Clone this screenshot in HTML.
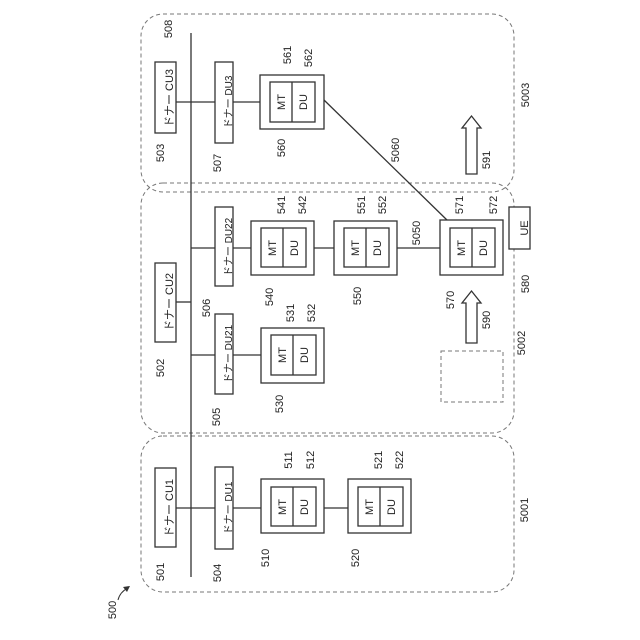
<!DOCTYPE html>
<html><head><meta charset="utf-8"><style>html,body{margin:0;padding:0;background:#fff}svg{display:block}text{font-family:"Liberation Sans","Noto Sans CJK JP",sans-serif;font-size:11px;fill:#222}.b{font-size:10px}</style></head><body>
<svg width="640" height="640" viewBox="0 0 640 640" xmlns="http://www.w3.org/2000/svg">
<g fill="none" stroke="#777" stroke-dasharray="4,3" stroke-width="1">
<rect x="141" y="14" width="373" height="178" rx="22"/>
<rect x="141" y="183" width="373" height="250" rx="22"/>
<rect x="141" y="436" width="373" height="156" rx="22"/>
<rect x="441" y="351" width="62" height="51"/>
</g>
<g stroke="#333" stroke-width="1.3" fill="none">
<line x1="191" y1="33" x2="191" y2="577"/>
<line x1="176" y1="102" x2="215" y2="102"/><line x1="233" y1="102" x2="260" y2="102"/>
<line x1="176" y1="302" x2="191" y2="302"/>
<line x1="191" y1="248" x2="215" y2="248"/><line x1="233" y1="248" x2="251" y2="248"/>
<line x1="191" y1="355" x2="215" y2="355"/><line x1="233" y1="355" x2="261" y2="355"/>
<line x1="176" y1="508" x2="215" y2="508"/><line x1="233" y1="508" x2="261" y2="508"/>
<line x1="314" y1="248" x2="334" y2="248"/><line x1="397" y1="248" x2="440" y2="248"/>
<line x1="324" y1="508" x2="348" y2="508"/>
<line x1="324" y1="100" x2="448" y2="221"/>
</g>
<g stroke="#333" stroke-width="1.3" fill="#fff">
<rect x="155" y="62" width="21" height="71"/><rect x="155" y="263" width="21" height="79"/><rect x="155" y="468" width="21" height="79"/>
<rect x="215" y="62" width="18" height="81"/><rect x="215" y="207" width="18" height="79"/><rect x="215" y="314" width="18" height="80"/><rect x="215" y="467" width="18" height="82"/>
<rect x="509" y="207" width="21" height="42"/>
<rect x="260" y="75" width="64" height="54"/><rect x="270" y="82" width="45" height="40"/><line x1="292" y1="82" x2="292" y2="122"/>
<rect x="251" y="221" width="63" height="54"/><rect x="261" y="228" width="45" height="39"/><line x1="283" y1="228" x2="283" y2="267"/>
<rect x="334" y="221" width="63" height="54"/><rect x="344" y="228" width="45" height="39"/><line x1="366" y1="228" x2="366" y2="267"/>
<rect x="440" y="220" width="63" height="55"/><rect x="450" y="228" width="45" height="39"/><line x1="472" y1="228" x2="472" y2="267"/>
<rect x="261" y="328" width="63" height="55"/><rect x="271" y="335" width="45" height="40"/><line x1="293" y1="335" x2="293" y2="375"/>
<rect x="261" y="479" width="63" height="54"/><rect x="271" y="487" width="45" height="39"/><line x1="293" y1="487" x2="293" y2="526"/>
<rect x="348" y="479" width="63" height="54"/><rect x="358" y="487" width="45" height="39"/><line x1="380" y1="487" x2="380" y2="526"/>
<path d="M466 174 V128 H462 L471.5 116 L481 128 H477 V174 Z"/>
<path d="M466 343 V303 H462 L471.5 291 L481 303 H477 V343 Z"/>
</g>
<g text-anchor="middle">
<text transform="translate(169,98) rotate(-90)" dy="4">ドナー CU3</text>
<text transform="translate(169,302) rotate(-90)" dy="4">ドナー CU2</text>
<text transform="translate(169,508) rotate(-90)" dy="4">ドナー CU1</text>
<text class="b" transform="translate(228,102) rotate(-90)" dy="4">ドナー DU3</text>
<text class="b" transform="translate(228,247) rotate(-90)" dy="4">ドナー DU22</text>
<text class="b" transform="translate(228,354) rotate(-90)" dy="4">ドナー DU21</text>
<text class="b" transform="translate(228,508) rotate(-90)" dy="4">ドナー DU1</text>
<text transform="translate(524,228) rotate(-90)" dy="4">UE</text>
<text transform="translate(281,102) rotate(-90)" dy="4">MT</text><text transform="translate(303,102) rotate(-90)" dy="4">DU</text>
<text transform="translate(272,248) rotate(-90)" dy="4">MT</text><text transform="translate(294,248) rotate(-90)" dy="4">DU</text>
<text transform="translate(355,248) rotate(-90)" dy="4">MT</text><text transform="translate(377,248) rotate(-90)" dy="4">DU</text>
<text transform="translate(461,248) rotate(-90)" dy="4">MT</text><text transform="translate(483,248) rotate(-90)" dy="4">DU</text>
<text transform="translate(282,355) rotate(-90)" dy="4">MT</text><text transform="translate(304,355) rotate(-90)" dy="4">DU</text>
<text transform="translate(282,507) rotate(-90)" dy="4">MT</text><text transform="translate(304,507) rotate(-90)" dy="4">DU</text>
<text transform="translate(369,507) rotate(-90)" dy="4">MT</text><text transform="translate(391,507) rotate(-90)" dy="4">DU</text>
<text transform="translate(168,29) rotate(-90)" dy="4">508</text>
<text transform="translate(160,153) rotate(-90)" dy="4">503</text>
<text transform="translate(217,163) rotate(-90)" dy="4">507</text>
<text transform="translate(281,148) rotate(-90)" dy="4">560</text>
<text transform="translate(287,55) rotate(-90)" dy="4">561</text>
<text transform="translate(308,58) rotate(-90)" dy="4">562</text>
<text transform="translate(395,150) rotate(-90)" dy="4">5060</text>
<text transform="translate(486,160) rotate(-90)" dy="4">591</text>
<text transform="translate(525,95) rotate(-90)" dy="4">5003</text>
<text transform="translate(160,368) rotate(-90)" dy="4">502</text>
<text transform="translate(206,308) rotate(-90)" dy="4">506</text>
<text transform="translate(216,417) rotate(-90)" dy="4">505</text>
<text transform="translate(269,297) rotate(-90)" dy="4">540</text>
<text transform="translate(281,205) rotate(-90)" dy="4">541</text>
<text transform="translate(302,205) rotate(-90)" dy="4">542</text>
<text transform="translate(279,404) rotate(-90)" dy="4">530</text>
<text transform="translate(290,313) rotate(-90)" dy="4">531</text>
<text transform="translate(311,313) rotate(-90)" dy="4">532</text>
<text transform="translate(357,296) rotate(-90)" dy="4">550</text>
<text transform="translate(361,205) rotate(-90)" dy="4">551</text>
<text transform="translate(382,205) rotate(-90)" dy="4">552</text>
<text transform="translate(416,233) rotate(-90)" dy="4">5050</text>
<text transform="translate(450,300) rotate(-90)" dy="4">570</text>
<text transform="translate(459,205) rotate(-90)" dy="4">571</text>
<text transform="translate(493,205) rotate(-90)" dy="4">572</text>
<text transform="translate(525,284) rotate(-90)" dy="4">580</text>
<text transform="translate(486,320) rotate(-90)" dy="4">590</text>
<text transform="translate(521,343) rotate(-90)" dy="4">5002</text>
<text transform="translate(160,572) rotate(-90)" dy="4">501</text>
<text transform="translate(217,573) rotate(-90)" dy="4">504</text>
<text transform="translate(265,558) rotate(-90)" dy="4">510</text>
<text transform="translate(288,460) rotate(-90)" dy="4">511</text>
<text transform="translate(310,460) rotate(-90)" dy="4">512</text>
<text transform="translate(355,558) rotate(-90)" dy="4">520</text>
<text transform="translate(378,460) rotate(-90)" dy="4">521</text>
<text transform="translate(399,460) rotate(-90)" dy="4">522</text>
<text transform="translate(524,510) rotate(-90)" dy="4">5001</text>
<text transform="translate(112,610) rotate(-90)" dy="4">500</text>
</g>
<path d="M118 600 Q120 592 128 588" fill="none" stroke="#333"/>
<path d="M130 586 L123 587 L127 592 Z" fill="#333"/>
</svg>
</body></html>
